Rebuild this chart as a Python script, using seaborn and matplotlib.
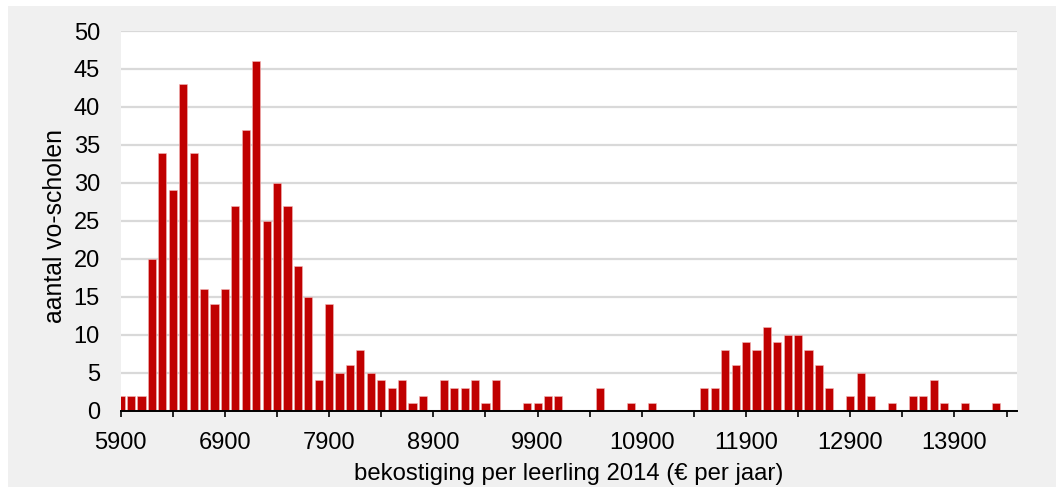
import numpy as np
import pandas as pd
import matplotlib
matplotlib.use('Agg')
import matplotlib.pyplot as plt
from matplotlib.patches import Rectangle
import seaborn as sns

# Data: number of vo-schools per funding bin of 100 euro (bin labels 5900 .. 14300)
bin_labels = list(range(5900, 14400, 100))
counts = [2, 2, 2, 20, 34, 29, 43, 34, 16, 14,
          16, 27, 37, 46, 25, 30, 27, 19, 15, 4,
          14, 5, 6, 8, 5, 4, 3, 4, 1, 2,
          0, 4, 3, 3, 4, 1, 4, 0, 0, 1,
          1, 2, 2, 0, 0, 0, 3, 0, 0, 1,
          0, 1, 0, 0, 0, 0, 3, 3, 8, 6,
          9, 8, 11, 9, 10, 10, 8, 6, 3, 0,
          2, 5, 2, 0, 1, 0, 2, 2, 4, 1,
          0, 1, 0, 0, 1]
x_tick_labels = ['5900', '6900', '7900', '8900', '9900',
                 '10900', '11900', '12900', '13900']
y_ticks = [0, 5, 10, 15, 20, 25, 30, 35, 40, 45, 50]

BAR_COLOR = '#c00000'
BG_COLOR = '#f0f0f0'
GRID_COLOR = '#d9d9d9'

df = pd.DataFrame({'bekostiging': bin_labels, 'aantal': counts})

sns.set_theme(style="white")
plt.rcParams['font.family'] = ['Liberation Sans', 'DejaVu Sans']

fig = plt.figure(figsize=(10.56, 4.87), dpi=100, facecolor='white')
# grey chart background with a thin white border on the left and top
fig.patches.append(Rectangle((8 / 1056, 0), 1, 1 - 6 / 487,
                             transform=fig.transFigure, facecolor=BG_COLOR,
                             edgecolor='none', zorder=-10))

ax = fig.add_axes([120.7 / 1056, 1 - 410.7 / 487,
                   (1017 - 120.7) / 1056, (410.7 - 31) / 487])
ax.set_facecolor('white')

sns.barplot(data=df, x='bekostiging', y='aantal', native_scale=True,
            color=BAR_COLOR, saturation=1, width=0.78, ax=ax,
            edgecolor='#f2b8b8', linewidth=0.4)

ax.set_xlim(5900, 14500)
ax.set_ylim(0, 50)

# major ticks every 500, labels every 1000
xt = np.arange(5900, 14401, 500)
ax.set_xticks(xt)
labels = []
for v in xt:
    s = str(v)
    labels.append(s if s in x_tick_labels else '')
ax.set_xticklabels(labels)
ax.set_yticks(y_ticks)
ax.set_yticklabels([str(v) for v in y_ticks])

ax.grid(axis='y', color=GRID_COLOR, linewidth=1.6)
ax.set_axisbelow(True)
for side in ['left', 'right', 'top']:
    ax.spines[side].set_visible(False)
ax.spines['bottom'].set_color('black')
ax.spines['bottom'].set_linewidth(1.4)

ax.tick_params(axis='x', direction='out', length=4.5, width=1.2,
               color='black', bottom=True, labelsize=17, pad=11,
               labelcolor='black')
ax.tick_params(axis='y', length=0, labelsize=17, pad=15,
               labelcolor='black')

ax.set_xlabel('bekostiging per leerling 2014 (€ per jaar)', fontsize=17.2,
              color='black', labelpad=6)
ax.set_ylabel('aantal vo-scholen', fontsize=17.8, color='black', labelpad=5)
ax.yaxis.label.set_y(0.487)

plt.savefig('out.png', dpi=100, facecolor=fig.get_facecolor())
